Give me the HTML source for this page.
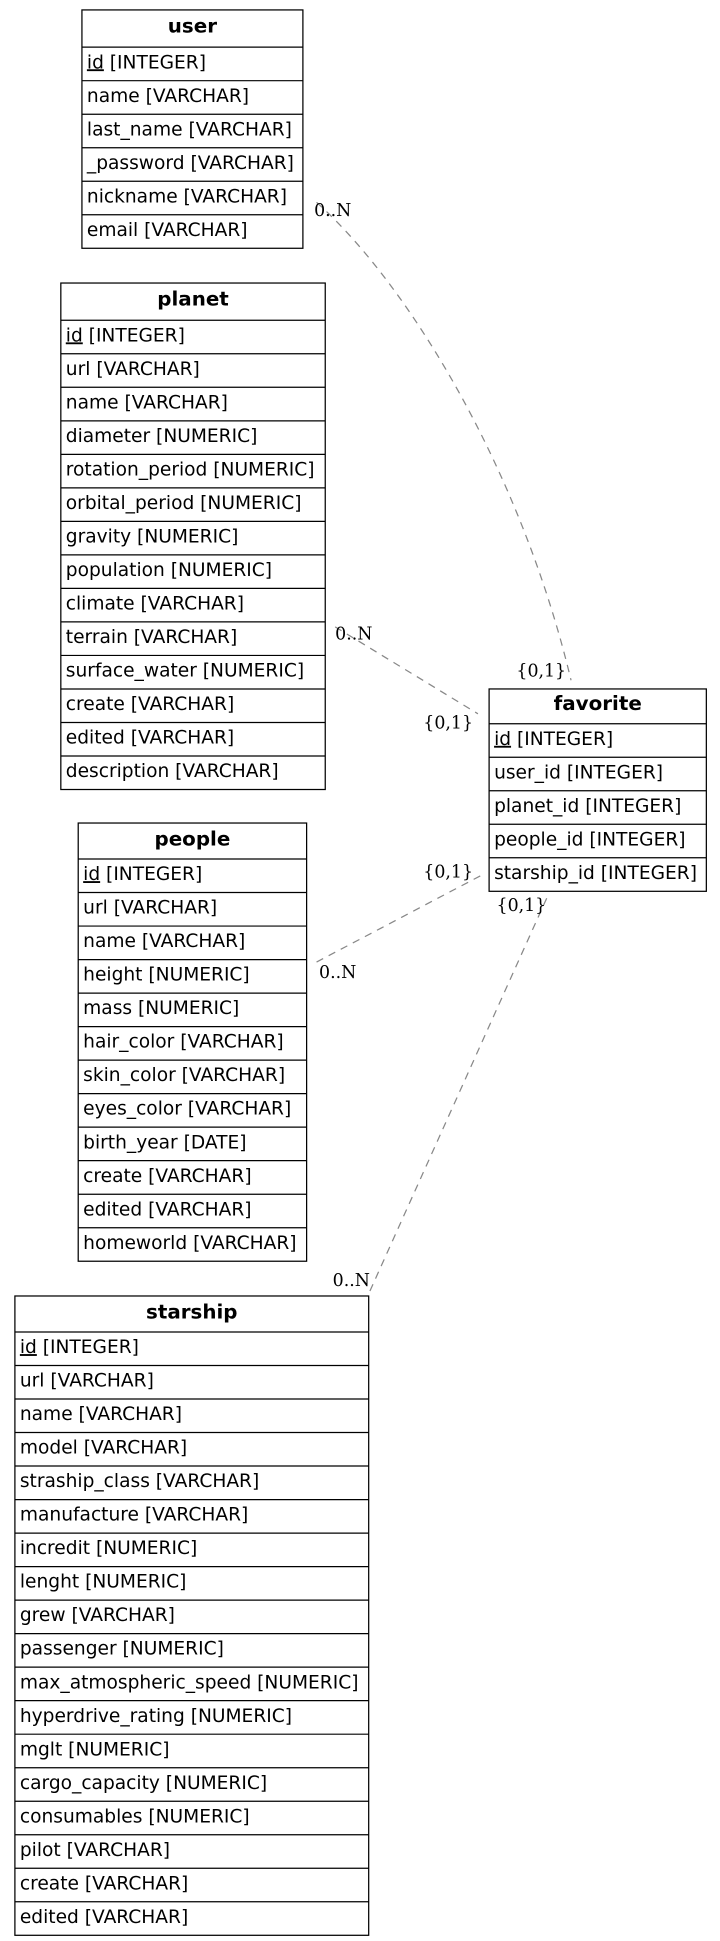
<!DOCTYPE html>
<html><head><meta charset="utf-8"><style>
html,body{margin:0;padding:0;background:#fff;}
svg{display:block;}
.t{font-family:"DejaVu Sans","Liberation Sans",sans-serif;font-size:15px;fill:#000;}
.h{font-family:"DejaVu Sans","Liberation Sans",sans-serif;font-size:16px;font-weight:bold;fill:#000;}
.l{font-family:"DejaVu Serif","Liberation Serif",serif;font-size:14px;fill:#000;}
.e{fill:none;stroke:#888;stroke-width:1;stroke-dasharray:6,5;}
rect{fill:#fff;stroke:#000;stroke-width:1;}
line.r{stroke:#000;stroke-width:1;}
</style></head><body>
<svg width="720" height="1941" viewBox="0 0 580 1563.6" xmlns="http://www.w3.org/2000/svg">
<path class="e" d="M255,163 C330,230 420,380 460,548"/>
<path class="e" d="M270,505 L385,575"/>
<path class="e" d="M255,775 L388,705"/>
<path class="e" d="M298,1040 L442,720"/>
<text class="l" x="253" y="174">0..N</text>
<text class="l" x="416" y="545">{0,1}</text>
<text class="l" x="270" y="515">0..N</text>
<text class="l" x="341" y="587">{0,1}</text>
<text class="l" x="341" y="707">{0,1}</text>
<text class="l" x="257" y="788">0..N</text>
<text class="l" x="400" y="734">{0,1}</text>
<text class="l" x="268" y="1036">0..N</text>

<rect x="66" y="8" width="178" height="192"/>
<text class="h" x="155" y="26" text-anchor="middle">user</text>
<line class="r" x1="66" y1="38" x2="244" y2="38"/>
<line class="r" x1="66" y1="65" x2="244" y2="65"/>
<line class="r" x1="66" y1="92" x2="244" y2="92"/>
<line class="r" x1="66" y1="119" x2="244" y2="119"/>
<line class="r" x1="66" y1="146" x2="244" y2="146"/>
<line class="r" x1="66" y1="173" x2="244" y2="173"/>
<text class="t" x="70" y="55"><tspan text-decoration="underline">id</tspan> [INTEGER]</text>
<text class="t" x="70" y="82">name [VARCHAR]</text>
<text class="t" x="70" y="109">last_name [VARCHAR]</text>
<text class="t" x="70" y="136">_password [VARCHAR]</text>
<text class="t" x="70" y="163">nickname [VARCHAR]</text>
<text class="t" x="70" y="190">email [VARCHAR]</text>

<rect x="49" y="228" width="213" height="408"/>
<text class="h" x="155.5" y="246" text-anchor="middle">planet</text>
<line class="r" x1="49" y1="258" x2="262" y2="258"/>
<line class="r" x1="49" y1="285" x2="262" y2="285"/>
<line class="r" x1="49" y1="312" x2="262" y2="312"/>
<line class="r" x1="49" y1="339" x2="262" y2="339"/>
<line class="r" x1="49" y1="366" x2="262" y2="366"/>
<line class="r" x1="49" y1="393" x2="262" y2="393"/>
<line class="r" x1="49" y1="420" x2="262" y2="420"/>
<line class="r" x1="49" y1="447" x2="262" y2="447"/>
<line class="r" x1="49" y1="474" x2="262" y2="474"/>
<line class="r" x1="49" y1="501" x2="262" y2="501"/>
<line class="r" x1="49" y1="528" x2="262" y2="528"/>
<line class="r" x1="49" y1="555" x2="262" y2="555"/>
<line class="r" x1="49" y1="582" x2="262" y2="582"/>
<line class="r" x1="49" y1="609" x2="262" y2="609"/>
<text class="t" x="53" y="275"><tspan text-decoration="underline">id</tspan> [INTEGER]</text>
<text class="t" x="53" y="302">url [VARCHAR]</text>
<text class="t" x="53" y="329">name [VARCHAR]</text>
<text class="t" x="53" y="356">diameter [NUMERIC]</text>
<text class="t" x="53" y="383">rotation_period [NUMERIC]</text>
<text class="t" x="53" y="410">orbital_period [NUMERIC]</text>
<text class="t" x="53" y="437">gravity [NUMERIC]</text>
<text class="t" x="53" y="464">population [NUMERIC]</text>
<text class="t" x="53" y="491">climate [VARCHAR]</text>
<text class="t" x="53" y="518">terrain [VARCHAR]</text>
<text class="t" x="53" y="545">surface_water [NUMERIC]</text>
<text class="t" x="53" y="572">create [VARCHAR]</text>
<text class="t" x="53" y="599">edited [VARCHAR]</text>
<text class="t" x="53" y="626">description [VARCHAR]</text>

<rect x="63" y="663" width="184" height="353"/>
<text class="h" x="155" y="681" text-anchor="middle">people</text>
<line class="r" x1="63" y1="692" x2="247" y2="692"/>
<line class="r" x1="63" y1="719" x2="247" y2="719"/>
<line class="r" x1="63" y1="746" x2="247" y2="746"/>
<line class="r" x1="63" y1="773" x2="247" y2="773"/>
<line class="r" x1="63" y1="800" x2="247" y2="800"/>
<line class="r" x1="63" y1="827" x2="247" y2="827"/>
<line class="r" x1="63" y1="854" x2="247" y2="854"/>
<line class="r" x1="63" y1="881" x2="247" y2="881"/>
<line class="r" x1="63" y1="908" x2="247" y2="908"/>
<line class="r" x1="63" y1="935" x2="247" y2="935"/>
<line class="r" x1="63" y1="962" x2="247" y2="962"/>
<line class="r" x1="63" y1="989" x2="247" y2="989"/>
<text class="t" x="67" y="709"><tspan text-decoration="underline">id</tspan> [INTEGER]</text>
<text class="t" x="67" y="736">url [VARCHAR]</text>
<text class="t" x="67" y="763">name [VARCHAR]</text>
<text class="t" x="67" y="790">height [NUMERIC]</text>
<text class="t" x="67" y="817">mass [NUMERIC]</text>
<text class="t" x="67" y="844">hair_color [VARCHAR]</text>
<text class="t" x="67" y="871">skin_color [VARCHAR]</text>
<text class="t" x="67" y="898">eyes_color [VARCHAR]</text>
<text class="t" x="67" y="925">birth_year [DATE]</text>
<text class="t" x="67" y="952">create [VARCHAR]</text>
<text class="t" x="67" y="979">edited [VARCHAR]</text>
<text class="t" x="67" y="1006">homeworld [VARCHAR]</text>

<rect x="394" y="555" width="175" height="163"/>
<text class="h" x="481.5" y="572" text-anchor="middle">favorite</text>
<line class="r" x1="394" y1="583" x2="569" y2="583"/>
<line class="r" x1="394" y1="610" x2="569" y2="610"/>
<line class="r" x1="394" y1="637" x2="569" y2="637"/>
<line class="r" x1="394" y1="664" x2="569" y2="664"/>
<line class="r" x1="394" y1="691" x2="569" y2="691"/>
<text class="t" x="398" y="600"><tspan text-decoration="underline">id</tspan> [INTEGER]</text>
<text class="t" x="398" y="627">user_id [INTEGER]</text>
<text class="t" x="398" y="654">planet_id [INTEGER]</text>
<text class="t" x="398" y="681">people_id [INTEGER]</text>
<text class="t" x="398" y="708">starship_id [INTEGER]</text>

<rect x="12" y="1044" width="285" height="515"/>
<text class="h" x="154.5" y="1062" text-anchor="middle">starship</text>
<line class="r" x1="12" y1="1073" x2="297" y2="1073"/>
<line class="r" x1="12" y1="1100" x2="297" y2="1100"/>
<line class="r" x1="12" y1="1127" x2="297" y2="1127"/>
<line class="r" x1="12" y1="1154" x2="297" y2="1154"/>
<line class="r" x1="12" y1="1181" x2="297" y2="1181"/>
<line class="r" x1="12" y1="1208" x2="297" y2="1208"/>
<line class="r" x1="12" y1="1235" x2="297" y2="1235"/>
<line class="r" x1="12" y1="1262" x2="297" y2="1262"/>
<line class="r" x1="12" y1="1289" x2="297" y2="1289"/>
<line class="r" x1="12" y1="1316" x2="297" y2="1316"/>
<line class="r" x1="12" y1="1343" x2="297" y2="1343"/>
<line class="r" x1="12" y1="1370" x2="297" y2="1370"/>
<line class="r" x1="12" y1="1397" x2="297" y2="1397"/>
<line class="r" x1="12" y1="1424" x2="297" y2="1424"/>
<line class="r" x1="12" y1="1451" x2="297" y2="1451"/>
<line class="r" x1="12" y1="1478" x2="297" y2="1478"/>
<line class="r" x1="12" y1="1505" x2="297" y2="1505"/>
<line class="r" x1="12" y1="1532" x2="297" y2="1532"/>
<text class="t" x="16" y="1090"><tspan text-decoration="underline">id</tspan> [INTEGER]</text>
<text class="t" x="16" y="1117">url [VARCHAR]</text>
<text class="t" x="16" y="1144">name [VARCHAR]</text>
<text class="t" x="16" y="1171">model [VARCHAR]</text>
<text class="t" x="16" y="1198">straship_class [VARCHAR]</text>
<text class="t" x="16" y="1225">manufacture [VARCHAR]</text>
<text class="t" x="16" y="1252">incredit [NUMERIC]</text>
<text class="t" x="16" y="1279">lenght [NUMERIC]</text>
<text class="t" x="16" y="1306">grew [VARCHAR]</text>
<text class="t" x="16" y="1333">passenger [NUMERIC]</text>
<text class="t" x="16" y="1360">max_atmospheric_speed [NUMERIC]</text>
<text class="t" x="16" y="1387">hyperdrive_rating [NUMERIC]</text>
<text class="t" x="16" y="1414">mglt [NUMERIC]</text>
<text class="t" x="16" y="1441">cargo_capacity [NUMERIC]</text>
<text class="t" x="16" y="1468">consumables [NUMERIC]</text>
<text class="t" x="16" y="1495">pilot [VARCHAR]</text>
<text class="t" x="16" y="1522">create [VARCHAR]</text>
<text class="t" x="16" y="1549">edited [VARCHAR]</text>
</svg>
</body></html>
